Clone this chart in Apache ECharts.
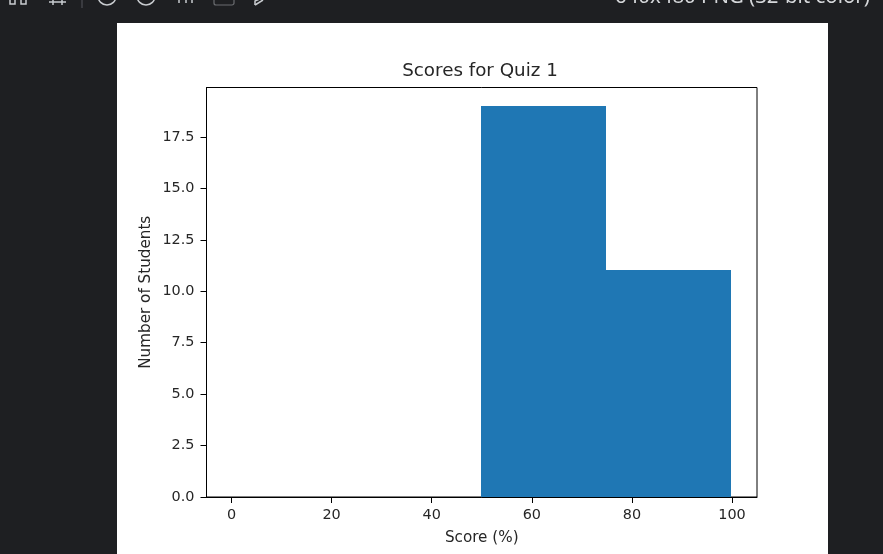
<!DOCTYPE html>
<html>
<head>
<meta charset="utf-8">
<style>html,body{margin:0;padding:0;background:#1e1f22;overflow:hidden}#c{width:883px;height:554px}</style>
<script src="https://cdn.jsdelivr.net/npm/echarts@6/dist/echarts.min.js"></script>
</head>
<body>
<div id="c"></div>
<script>
const binStarts = [0, 25, 50, 75];
const binEnds = [25, 50, 75, 100];
const counts = [0, 0, 19, 11];
const xTicks = [0, 20, 40, 60, 80, 100];
const yTicks = [0, 2.5, 5, 7.5, 10, 12.5, 15, 17.5];
const titleText = 'Scores for Quiz 1';
const xName = 'Score (%)';
const yName = 'Number of Students';
const statusText = '640x480 PNG (32-bit color)';

const font = '"DejaVu Sans"';
const ink = '#262626';
const chrome = '#c9ccd0';
const chart = echarts.init(document.getElementById('c'), null, {renderer: 'canvas'});
const icon = pts => ({type: 'polyline', z: 1, shape: {points: pts}, style: {fill: 'none', stroke: chrome, lineWidth: 1.5}});
chart.setOption({
  animation: false,
  backgroundColor: '#1e1f22',
  graphic: [
    {type: 'rect', z: -10, shape: {x: 117, y: 23, width: 711, height: 540}, style: {fill: '#ffffff'}},
    {type: 'text', z: 1, x: 615, y: -13, style: {text: statusText, fill: '#d5d7da', font: '20.4px "Noto Sans"'}},
    icon([[10, 0], [10, 4], [15, 4], [15, 0]]),
    icon([[21, 0], [21, 4], [26, 4], [26, 0]]),
    icon([[49, 2], [66, 2]]),
    icon([[53, 0], [53, 5]]),
    icon([[62, 0], [62, 5]]),
    {type: 'rect', z: 1, shape: {x: 81.5, y: 0, width: 1, height: 8}, style: {fill: '#55575c'}},
    {type: 'circle', z: 1, shape: {cx: 107, cy: -4, r: 9}, style: {fill: 'none', stroke: chrome, lineWidth: 1.5}},
    {type: 'circle', z: 1, shape: {cx: 146, cy: -4, r: 9}, style: {fill: 'none', stroke: chrome, lineWidth: 1.5}},
    icon([[179, 0], [179, 3]]),
    icon([[186, 0], [186, 3]]),
    icon([[192, 0], [192, 3]]),
    {type: 'rect', z: 1, shape: {x: 214, y: -10, width: 20, height: 15, r: 2}, style: {fill: 'none', stroke: '#6a6c70', lineWidth: 1.2}},
    icon([[255, 5], [255, 1], [262, -2]]),
    icon([[255, 5], [263, 0]])
  ],
  title: {
    text: titleText, left: 475, top: 57, textAlign: 'center',
    textStyle: {fontFamily: font, fontSize: 18.3, fontWeight: 'normal', color: ink}
  },
  grid: {left: 206.5, right: 126, top: 87.5, bottom: 57, show: true, borderColor: '#000', borderWidth: 1, backgroundColor: 'transparent'},
  xAxis: {
    type: 'value', min: -5, max: 105, splitLine: {show: false},
    name: xName, nameLocation: 'middle', nameGap: 34, nameMoveOverlap: false,
    nameTextStyle: {fontFamily: font, fontSize: 15.2, color: ink},
    axisLine: {show: true, onZero: false, lineStyle: {color: '#000', width: 1}},
    axisTick: {show: true, length: 6, customValues: xTicks, lineStyle: {color: '#000', width: 1}},
    axisLabel: {customValues: xTicks, fontFamily: font, fontSize: 14.4, color: ink, margin: 11}
  },
  yAxis: {
    type: 'value', min: 0, max: 19.9, splitLine: {show: false},
    name: yName, nameLocation: 'middle', nameGap: 53, nameMoveOverlap: false,
    nameTextStyle: {fontFamily: font, fontSize: 15.2, color: ink},
    axisLine: {show: true, onZero: false, lineStyle: {color: '#000', width: 1}},
    axisTick: {show: true, length: 6, customValues: yTicks, lineStyle: {color: '#000', width: 1}},
    axisLabel: {customValues: yTicks, fontFamily: font, fontSize: 14.4, color: ink, margin: 12,
      formatter: v => v.toFixed(1)}
  },
  series: [{
    type: 'custom',
    data: counts.map((c, i) => [binStarts[i], binEnds[i], c]),
    encode: {x: [0, 1], y: 2},
    renderItem: (params, api) => {
      const a = api.coord([api.value(0), api.value(2)]);
      const b = api.coord([api.value(1), 0]);
      const x0 = Math.floor(a[0]), x1 = Math.floor(b[0]), y0 = Math.floor(a[1]);
      return {type: 'rect', shape: {x: x0, y: y0, width: x1 - x0, height: b[1] - y0}, style: {fill: '#1f77b4'}};
    }
  }]
});
</script>
</body>
</html>
